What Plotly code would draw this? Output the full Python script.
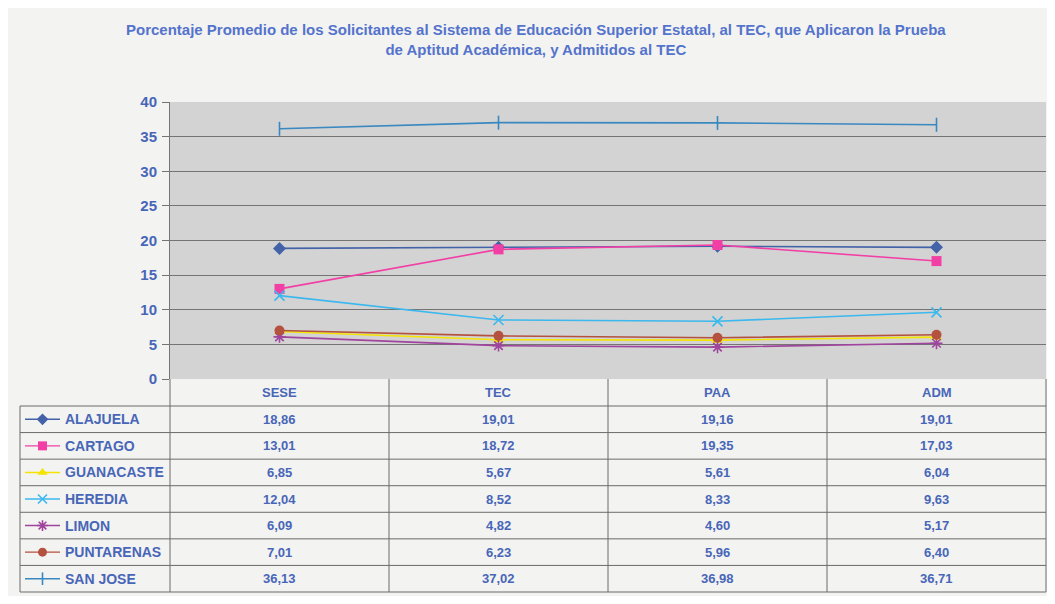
import plotly.graph_objects as go

# ---------------- data ----------------
CATEGORIES = ["SESE", "TEC", "PAA", "ADM"]
REGIONS = ["ALAJUELA", "CARTAGO", "GUANACASTE", "HEREDIA", "LIMON", "PUNTARENAS", "SAN JOSE"]
ALAJUELA = [18.86, 19.01, 19.16, 19.01]
CARTAGO = [13.01, 18.72, 19.35, 17.03]
GUANACASTE = [6.85, 5.67, 5.61, 6.04]
HEREDIA = [12.04, 8.52, 8.33, 9.63]
LIMON = [6.09, 4.82, 4.60, 5.17]
PUNTARENAS = [7.01, 6.23, 5.96, 6.40]
SAN_JOSE = [36.13, 37.02, 36.98, 36.71]
SERIES = [ALAJUELA, CARTAGO, GUANACASTE, HEREDIA, LIMON, PUNTARENAS, SAN_JOSE]
Y_TICKS = [0, 5, 10, 15, 20, 25, 30, 35, 40]

TITLE = ("Porcentaje Promedio de los Solicitantes al Sistema de Educación Superior Estatal, al TEC, que Aplicaron la Prueba"
         "<br>de Aptitud Académica, y Admitidos al TEC")

# ---------------- styles ----------------
COLORS = ["#4462a8", "#f23fa6", "#f5e300", "#3bb8ee", "#a0449e", "#b4523f", "#3a88c0"]
SYMBOLS = ["diamond", "square", "triangle-up", "x-thin", "asterisk", "circle", "line-ns"]
TXT = "#4866b8"
GRID = "#747474"
FONT = "Liberation Sans, Arial, sans-serif"

# page body has an 8px margin -> figure sized to fit the window
OFF = 8
FW, FH = 1055 - 2 * OFF, 604 - 2 * OFF

# layout in window pixels
PL, PR, PT, PB = 170, 1046, 102, 379
ROW_TOP, ROW_BOT = 406, 592
LEG_L = 20
NROWS = len(REGIONS)
ROW_H = (ROW_BOT - ROW_TOP) / NROWS
NC = len(CATEGORIES)
COL_W = (PR - PL) / NC


def px(x):
    return (x - OFF) / FW


def py(y):
    return 1 - (y - OFF) / FH


def marker_for(i, size):
    sym = SYMBOLS[i]
    line_sym = sym in ("x-thin", "asterisk", "line-ns")
    return dict(symbol=sym, size=size, color=COLORS[i],
                line=dict(color=COLORS[i], width=1.6 if line_sym else 0))


fig = go.Figure()

for i, (name, vals) in enumerate(zip(REGIONS, SERIES)):
    fig.add_trace(go.Scatter(
        x=list(range(NC)), y=vals, name=name, mode="lines+markers",
        line=dict(color=COLORS[i], width=1.6),
        marker=marker_for(i, 10),
        xaxis="x", yaxis="y", showlegend=False, hoverinfo="x+y+name"))

shapes = []
# plot area background
shapes.append(dict(type="rect", xref="paper", yref="paper", x0=px(PL), x1=px(PR), y0=py(PB), y1=py(PT),
                   fillcolor="#d3d3d3", line=dict(width=0), layer="below"))

LC = "#6a6a6a"
# table: vertical column lines
for c in range(NC + 1):
    x = PL + c * COL_W
    shapes.append(dict(type="line", xref="paper", yref="paper", x0=px(x), x1=px(x), y0=py(PB), y1=py(ROW_BOT),
                       line=dict(color=LC, width=1)))
# legend column left border
shapes.append(dict(type="line", xref="paper", yref="paper", x0=px(LEG_L), x1=px(LEG_L), y0=py(ROW_TOP), y1=py(ROW_BOT),
                   line=dict(color=LC, width=1)))
# horizontal row lines
for r in range(NROWS + 1):
    y = ROW_TOP + r * ROW_H
    shapes.append(dict(type="line", xref="paper", yref="paper", x0=px(LEG_L), x1=px(PR), y0=py(y), y1=py(y),
                       line=dict(color=LC, width=1)))

annotations = []
# header
for c, cat in enumerate(CATEGORIES):
    annotations.append(dict(xref="paper", yref="paper", x=px(PL + (c + 0.5) * COL_W), y=py((PB + ROW_TOP) / 2),
                            text="<b>%s</b>" % cat, showarrow=False, xanchor="center", yanchor="middle",
                            font=dict(family=FONT, size=13, color=TXT)))
# rows
for r, (name, vals) in enumerate(zip(REGIONS, SERIES)):
    yc = ROW_TOP + (r + 0.5) * ROW_H
    annotations.append(dict(xref="paper", yref="paper", x=px(63), y=py(yc), text="<b>%s</b>" % name,
                            showarrow=False, xanchor="left", yanchor="middle",
                            font=dict(family=FONT, size=14, color=TXT)))
    for c, v in enumerate(vals):
        annotations.append(dict(xref="paper", yref="paper", x=px(PL + (c + 0.5) * COL_W), y=py(yc),
                                text="<b>%s</b>" % f"{v:.2f}".replace(".", ","),
                                showarrow=False, xanchor="center", yanchor="middle",
                                font=dict(family=FONT, size=13, color=TXT)))
    # legend key
    fig.add_trace(go.Scatter(x=[25, 60], y=[yc, yc], mode="lines", line=dict(color=COLORS[r], width=1.4),
                             xaxis="x2", yaxis="y2", showlegend=False, hoverinfo="skip"))
    fig.add_trace(go.Scatter(x=[42.5], y=[yc], mode="markers", marker=marker_for(r, 9),
                             xaxis="x2", yaxis="y2", showlegend=False, hoverinfo="skip"))

# title
annotations.append(dict(xref="paper", yref="paper", x=px(536), y=py(40), text="<b>%s</b>" % TITLE,
                        showarrow=False, xanchor="center", yanchor="middle",
                        font=dict(family=FONT, size=15, color="#5473cc")))

fig.update_layout(
    template="none",
    width=FW, height=FH,
    autosize=False,
    margin=dict(l=0, r=0, t=0, b=0, pad=0, autoexpand=False),
    paper_bgcolor="#f3f3f1",
    plot_bgcolor="rgba(0,0,0,0)",
    shapes=shapes,
    annotations=annotations,
    xaxis=dict(domain=[px(PL), px(PR)], range=[-0.5, NC - 0.5], showticklabels=False, showgrid=False,
               zeroline=False, showline=False, ticks="", fixedrange=True, automargin=False),
    yaxis=dict(domain=[py(PB), py(PT)], range=[0, 40], tickvals=Y_TICKS, ticks="outside", ticklen=7,
               tickcolor=GRID, showgrid=True, gridcolor=GRID, gridwidth=1, zeroline=False,
               showline=True, linecolor=GRID, linewidth=1, automargin=False,
               tickfont=dict(family=FONT, size=15, color=TXT, weight="bold"), ticklabelstandoff=2),
    xaxis2=dict(domain=[0, 1], range=[OFF, OFF + FW], visible=False, fixedrange=True, anchor="y2",
                automargin=False),
    yaxis2=dict(domain=[0, 1], range=[OFF + FH, OFF], visible=False, fixedrange=True, anchor="x2",
                automargin=False),
    showlegend=False,
)

fig.write_html("out.html")
